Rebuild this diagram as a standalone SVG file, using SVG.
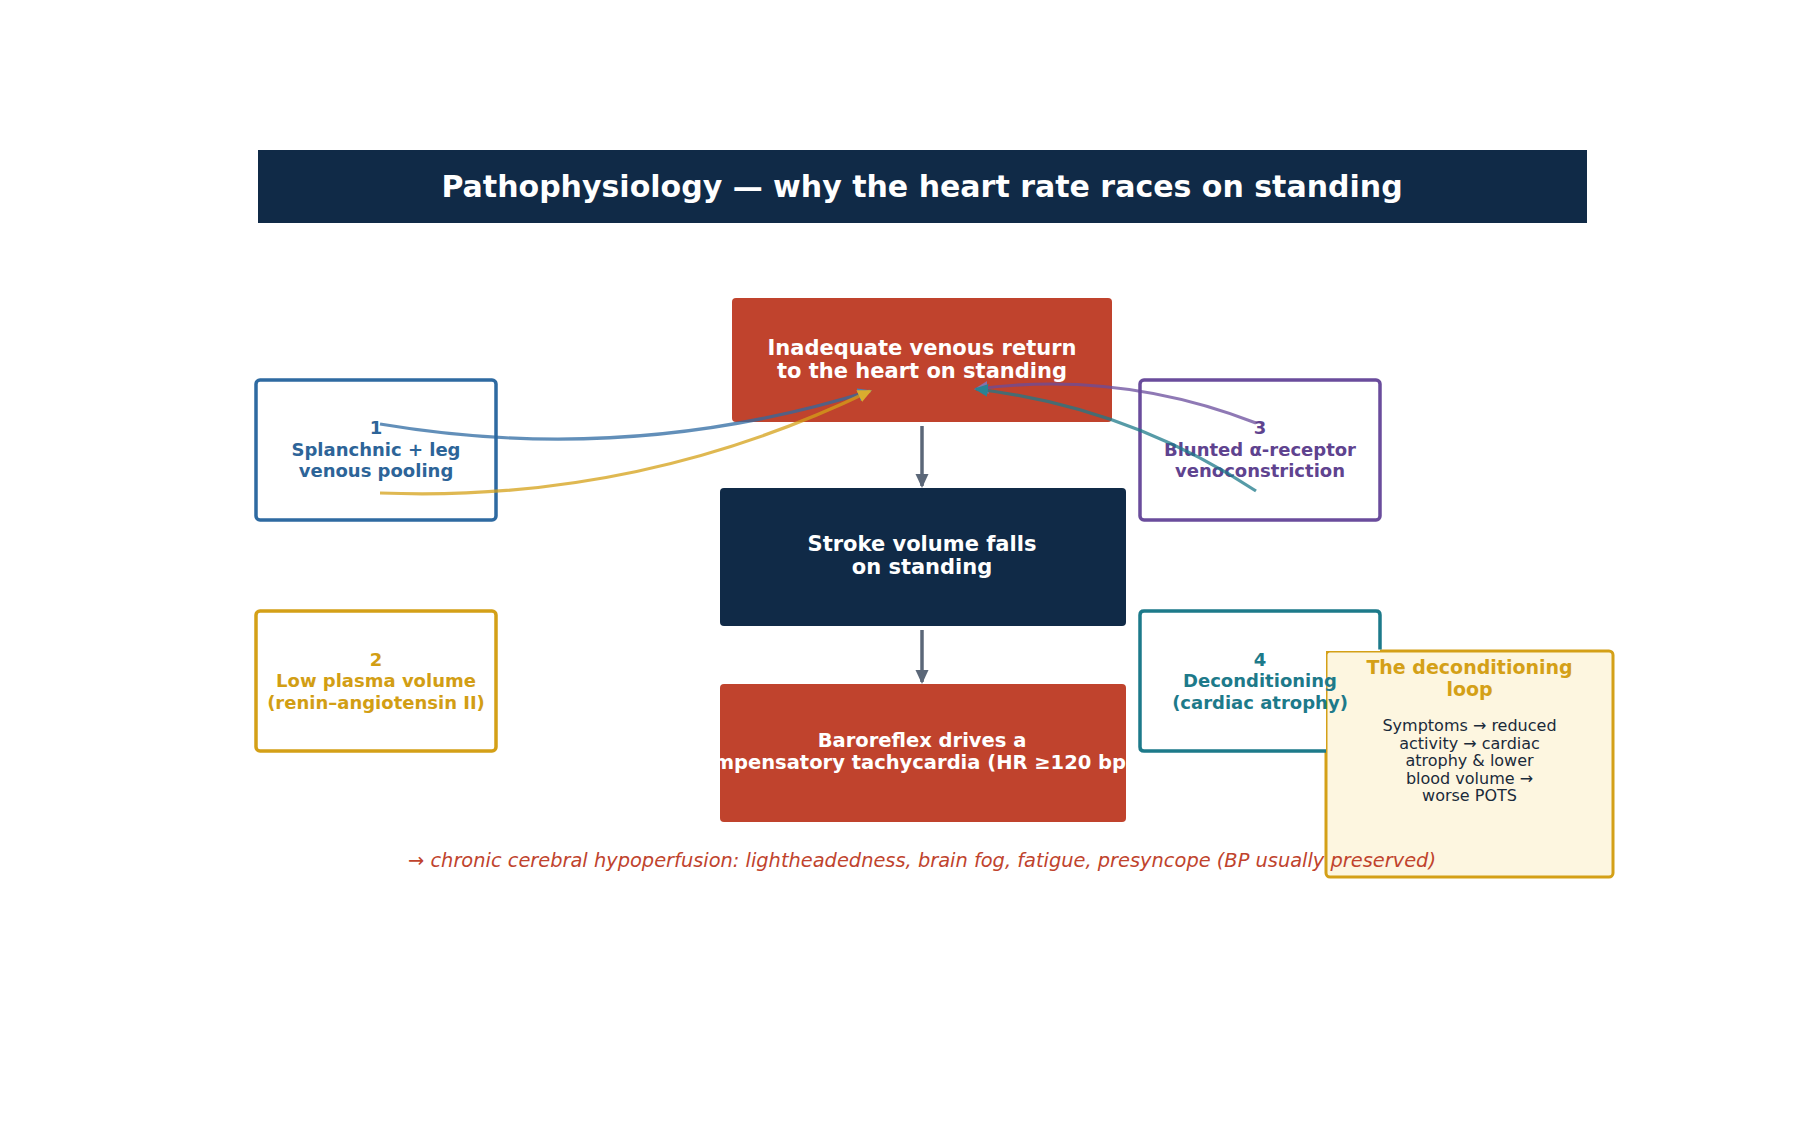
<svg xmlns="http://www.w3.org/2000/svg" width="1800" height="1125" viewBox="0 0 1800 1125">
  <style>
    text { font-family: "DejaVu Sans", "Liberation Sans", sans-serif; text-anchor: middle; }
    .title { font-size: 30px; font-weight: bold; fill: #ffffff; }
    .main { font-size: 21px; font-weight: bold; fill: #ffffff; }
    .main.small { font-size: 19.5px; }
    .cause { font-size: 18px; font-weight: bold; }
    .causebox { fill: #ffffff; stroke-width: 3.5; }
    .loop-title { font-size: 19px; font-weight: bold; fill: #d4a017; }
    .loop-body { font-size: 16px; fill: #1a2a3a; }
    .footer { font-size: 19.4px; font-style: italic; fill: #c0432d; }
    .flow { stroke: #5b6778; stroke-width: 3.5; fill: none; }
    .curve { fill: none; stroke-width: 3.2; }
  </style>
  <defs>
    <marker id="head-slate" markerUnits="userSpaceOnUse" markerWidth="14" markerHeight="14" refX="12" refY="6.5" orient="auto">
      <path d="M0,0 L14,6.5 L0,13 z" fill="#5b6778"/>
    </marker>
    <marker id="head-blue" markerUnits="userSpaceOnUse" markerWidth="14" markerHeight="14" refX="12" refY="6.5" orient="auto">
      <path d="M0,0 L14,6.5 L0,13 z" fill="#4f7faf"/>
    </marker>
    <marker id="head-gold" markerUnits="userSpaceOnUse" markerWidth="14" markerHeight="14" refX="12" refY="6.5" orient="auto">
      <path d="M0,0 L14,6.5 L0,13 z" fill="#d9ad2f"/>
    </marker>
    <marker id="head-purple" markerUnits="userSpaceOnUse" markerWidth="14" markerHeight="14" refX="12" refY="6.5" orient="auto">
      <path d="M0,0 L14,6.5 L0,13 z" fill="#8572ad"/>
    </marker>
    <marker id="head-teal" markerUnits="userSpaceOnUse" markerWidth="14" markerHeight="14" refX="12" refY="6.5" orient="auto">
      <path d="M0,0 L14,6.5 L0,13 z" fill="#2a8393"/>
    </marker>
    <clipPath id="clip-baro">
      <rect x="720" y="684" width="406" height="138"/>
    </clipPath>
  </defs>

  <rect width="1800" height="1125" fill="#ffffff"/>

  <!-- header band -->
  <g id="title">
    <rect x="258" y="150" width="1329" height="73" fill="#102a47"/>
    <text class="title" x="922" y="197">Pathophysiology — why the heart rate races on standing</text>
  </g>

  <!-- central chain -->
  <g id="venous-return">
    <rect x="732" y="298" width="380" height="124" rx="4" fill="#c0432d"/>
    <text class="main" x="922" y="355">Inadequate venous return</text>
    <text class="main" x="922" y="378">to the heart on standing</text>
  </g>

  <g id="stroke-volume">
    <rect x="720" y="488" width="406" height="138" rx="4" fill="#102a47"/>
    <text class="main" x="922" y="551">Stroke volume falls</text>
    <text class="main" x="922" y="574">on standing</text>
  </g>

  <g id="baroreflex">
    <rect x="720" y="684" width="406" height="138" rx="4" fill="#c0432d"/>
    <g clip-path="url(#clip-baro)">
      <text class="main small" x="922" y="747">Baroreflex drives a</text>
      <text class="main small" x="922" y="769">compensatory tachycardia (HR ≥120 bpm)</text>
    </g>
  </g>

  <!-- contributing mechanisms -->
  <g id="cause-1">
    <rect class="causebox" x="256" y="380" width="240" height="140" rx="4" stroke="#2e6aa1"/>
    <text class="cause" fill="#2d6498" x="376" y="434">1</text>
    <text class="cause" fill="#2d6498" x="376" y="455.5">Splanchnic + leg</text>
    <text class="cause" fill="#2d6498" x="376" y="477">venous pooling</text>
  </g>

  <g id="cause-2">
    <rect class="causebox" x="256" y="611" width="240" height="140" rx="4" stroke="#d4a017"/>
    <text class="cause" fill="#d29e14" x="376" y="665.5">2</text>
    <text class="cause" fill="#d29e14" x="376" y="687">Low plasma volume</text>
    <text class="cause" fill="#d29e14" x="376" y="708.5">(renin–angiotensin II)</text>
  </g>

  <g id="cause-3">
    <rect class="causebox" x="1140" y="380" width="240" height="140" rx="4" stroke="#6a4c9c"/>
    <text class="cause" fill="#5f438f" x="1260" y="434">3</text>
    <text class="cause" fill="#5f438f" x="1260" y="455.5">Blunted α-receptor</text>
    <text class="cause" fill="#5f438f" x="1260" y="477">venoconstriction</text>
  </g>

  <!-- connectors -->
  <g id="connectors">
    <line class="flow" x1="922" y1="426" x2="922" y2="486" marker-end="url(#head-slate)"/>
    <line class="flow" x1="922" y1="630" x2="922" y2="682" marker-end="url(#head-slate)"/>
    <path class="curve" d="M380,424 Q629,466 870,391" stroke="#2e6aa1" stroke-opacity="0.75" marker-end="url(#head-blue)"/>
    <path class="curve" d="M380,493 Q638,503 870,391" stroke="#d4a017" stroke-opacity="0.75" marker-end="url(#head-gold)"/>
    <path class="curve" d="M1256,423 Q1120,370 976,389" stroke="#6a4c9c" stroke-opacity="0.75" marker-end="url(#head-purple)"/>
    <path class="curve" d="M1256,491 Q1128,407 976,389" stroke="#1d7a8a" stroke-opacity="0.75" marker-end="url(#head-teal)"/>
  </g>

  <!-- side note -->
  <g id="deconditioning-loop">
    <rect x="1326" y="651" width="287" height="226" rx="4" fill="#fdf6e0" stroke="#d4a017" stroke-width="3"/>
    <text class="loop-title" x="1469.5" y="674">The deconditioning</text>
    <text class="loop-title" x="1469.5" y="696">loop</text>
    <text class="loop-body" x="1469.5" y="731">Symptoms → reduced</text>
    <text class="loop-body" x="1469.5" y="748.5">activity → cardiac</text>
    <text class="loop-body" x="1469.5" y="766">atrophy &amp; lower</text>
    <text class="loop-body" x="1469.5" y="783.5">blood volume →</text>
    <text class="loop-body" x="1469.5" y="801">worse POTS</text>
  </g>

  <!-- box 4 sits partly behind the side note: only its exposed outline is stroked, its label stays on top -->
  <g id="cause-4">
    <path d="M1140,615 Q1140,611 1144,611 L1376,611 Q1380,611 1380,615 L1380,651 L1326,651 L1326,751 L1144,751 Q1140,751 1140,747 Z" fill="#ffffff"/>
    <path d="M1326,751 L1144,751 Q1140,751 1140,747 L1140,615 Q1140,611 1144,611 L1376,611 Q1380,611 1380,615 L1380,649.5" fill="none" stroke="#1d7a8a" stroke-width="3.5"/>
    <text class="cause" fill="#1d7a8a" x="1260" y="665.5">4</text>
    <text class="cause" fill="#1d7a8a" x="1260" y="687">Deconditioning</text>
    <text class="cause" fill="#1d7a8a" x="1260" y="708.5">(cardiac atrophy)</text>
  </g>

  <!-- consequence line -->
  <text class="footer" x="922" y="867">→ chronic cerebral hypoperfusion: lightheadedness, brain fog, fatigue, presyncope (BP usually preserved)</text>
</svg>
